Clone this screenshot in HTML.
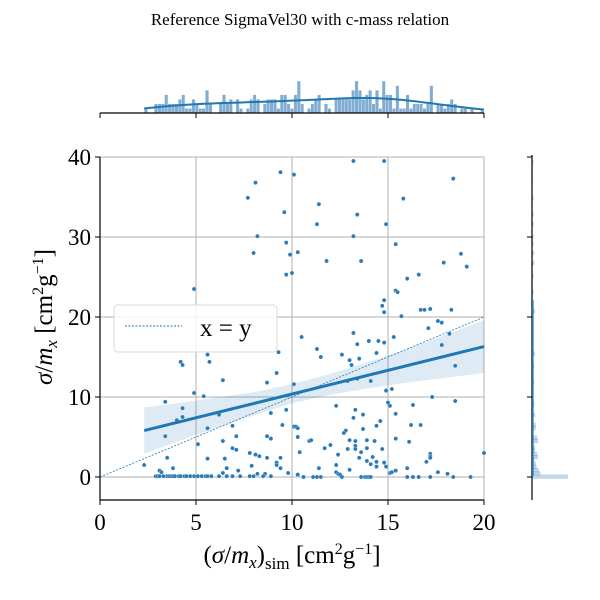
<!DOCTYPE html>
<html><head><meta charset="utf-8">
<style>
html,body{margin:0;padding:0;background:#fff;}
svg{display:block;font-family:"Liberation Serif","DejaVu Serif",serif;}
</style></head>
<body>
<svg id="chart" width="600" height="600" viewBox="0 0 600 600">
  <text x="300" y="25" text-anchor="middle" font-size="17">Reference SigmaVel30 with c-mass relation</text>
  <g id="grid"></g>
  <g id="band"></g>
  <g id="identity"></g>
  <g id="points"></g>
  <g id="fit"></g>
  <g id="axes"></g>
  <g id="tophist"></g>
  <g id="righthist"></g>
  <g>
    <rect x="114" y="305" width="163" height="47" rx="4" fill="#fff" fill-opacity="0.85" stroke="#d8d8d8"/>
    <line x1="125" y1="326" x2="182" y2="326" stroke="#1f77b4" stroke-width="0.9" stroke-dasharray="2,1.5"/>
    <text x="200" y="336" font-size="25">x = y</text>
  </g>
  <text x="292" y="563" text-anchor="middle" font-size="25">(<tspan font-style="italic">σ</tspan>/<tspan font-style="italic">m</tspan><tspan font-style="italic" font-size="17" dy="5">x</tspan><tspan dy="-5">)</tspan><tspan font-size="17" dy="6">sim</tspan><tspan dy="-6"> [cm</tspan><tspan font-size="16" dy="-9">2</tspan><tspan dy="9">g</tspan><tspan font-size="16" dy="-9">−1</tspan><tspan dy="9">]</tspan></text>
  <text transform="translate(52,317) rotate(-90)" text-anchor="middle" font-size="25"><tspan font-style="italic">σ</tspan>/<tspan font-style="italic">m</tspan><tspan font-style="italic" font-size="17" dy="5">x</tspan><tspan dy="-5"> [cm</tspan><tspan font-size="16" dy="-9">2</tspan><tspan dy="9">g</tspan><tspan font-size="16" dy="-9">−1</tspan><tspan dy="9">]</tspan></text>
</svg>
<script>
const xData = [9.4,10.1,8.1,7.7,9.6,8.2,9.7,8.0,9.9,10.3,9.7,10.0,4.9,13.2,14.8,18.4,11.4,15.8,13.4,11.3,14.9,13.2,15.4,11.8,13.6,18.8,17.9,19.1,16.6,16.0,15.4,15.5,14.8,14.7,14.8,16.7,16.9,17.2,18.3,15.7,17.6,17.8,17.1,
5.6,4.2,4.3,5.7,9.3,9.2,6.4,8.7,4.9,5.4,3.4,4.3,4.0,4.3,6.2,8.9,9.7,9.5,5.6,6.9,10.1,3.4,8.7,8.9,7.1,6.4,10.3,5.1,6.9,7.1,3.5,5.6,6.5,7.8,8.1,8.3,8.7,9.4,2.3,7.9,9.2,9.2,9.4,3.8,6.6,7.2,9.8,3.1,3.2,6.4,8.2,8.6,10.3,
2.9,3.0,3.1,3.3,3.5,3.6,3.7,3.8,3.9,4.1,4.2,4.4,4.5,4.7,4.9,5.1,5.3,5.5,5.6,5.8,6.2,6.6,6.9,7.3,7.8,8.0,8.5,8.9,
10.5,13.2,11.3,11.5,13.4,14.0,14.5,14.8,15.3,12.6,13.0,13.1,13.5,14.4,18.2,17.8,18.5,10.1,12.9,13.4,14.1,14.9,15.2,17.3,18.5,15.0,15.1,12.3,16.3,13.3,15.4,13.2,13.7,14.6,14.4,13.7,16.2,16.7,10.2,10.3,10.3,12.8,12.7,15.4,16.1,10.9,11.0,13.0,13.3,13.9,14.3,11.7,12.0,12.9,13.3,13.3,13.9,14.7,10.4,13.6,12.4,13.5,14.2,13.9,14.1,14.4,14.4,14.8,14.9,17.0,17.2,17.2,17.2,20.0,12.3,11.4,13.0,16.0,15.1,15.2,15.4,12.3,12.4,12.5,17.6,18.1,10.3,
10.6,11.1,11.3,11.5,12.6,13.6,13.8,13.9,14.0,14.1,16.0,16.3,16.6,17.2,18.4,19.3];
const yData = [38.1,37.8,36.8,34.9,33.1,30.1,29.3,28.0,27.8,28.1,25.3,25.5,23.5,39.5,39.5,37.3,34.1,34.8,32.8,31.6,31.6,30.1,29.1,27.0,27.0,27.9,26.8,26.3,25.3,24.8,23.3,23.1,22.1,21.4,20.6,20.9,20.9,21.0,20.9,20.1,19.5,19.3,18.6,
15.3,14.4,14.0,14.4,15.6,13.0,12.1,11.8,10.5,10.1,9.4,8.6,7.1,7.5,7.8,8.0,8.4,6.5,6.1,6.4,6.3,5.1,5.1,4.8,5.1,4.5,5.0,4.1,3.6,3.4,2.4,2.3,2.3,3.0,2.8,2.6,2.4,2.4,1.5,1.4,1.8,1.5,1.1,1.1,1.1,0.8,0.5,0.8,0.6,0.5,0.4,0.4,0.3,
0.1,0.1,0.1,0.1,0.1,0.1,0.1,0.1,0.1,0.1,0.1,0.1,0.1,0.1,0.1,0.1,0.1,0.1,0.1,0.1,0.1,0.1,0.1,0.1,0.1,0.1,0.1,0.1,
17.5,18.0,16.0,15.0,16.6,17.0,17.0,16.8,17.5,15.3,14.6,14.0,14.8,15.5,17.9,16.5,13.9,11.6,12.0,12.3,12.0,10.8,11.0,10.0,9.5,9.3,8.9,8.9,9.0,8.4,7.9,7.4,7.8,7.0,6.4,6.0,6.5,6.5,6.3,6.1,5.0,5.8,5.5,4.8,4.4,4.5,4.6,4.6,4.5,4.6,4.5,3.6,4.0,3.5,3.9,3.5,3.6,3.5,3.1,3.1,2.8,2.4,2.5,2.0,1.6,1.9,1.3,1.8,1.3,1.9,2.9,2.6,2.4,3.0,1.5,1.1,0.9,1.1,0.5,0.6,0.8,0.6,0.4,0.3,0.6,0.4,0.3,
0.0,0.0,0.0,0.0,0.0,0.0,0.0,0.0,0.0,0.0,0.0,0.0,0.0,0.0,0.0,0.0];
const fitX = [2.3, 20];
const fitY = [5.8, 16.3];
const bandX = [2.3,4,6,8,10,12,14,16,18,20];
const bandLo = [2.9,4.4,6.1,7.7,9.2,10.3,11.1,11.8,12.4,13.0];
const bandHi = [8.7,9.2,9.9,10.6,11.6,12.9,14.4,16.0,17.8,19.6];
const xTicks = [0,5,10,15,20];
const yTicks = [0,10,20,30,40];

const NS = 'http://www.w3.org/2000/svg';
const L = 100, R = 484, T = 157, B = 500;
const sx = v => L + v * (R - L) / 20;
const sy = v => 477 - v * 8;
function mk(tag, attrs, parent) {
  const e = document.createElementNS(NS, tag);
  for (const k in attrs) e.setAttribute(k, attrs[k]);
  parent.appendChild(e);
  return e;
}
const g = id => document.getElementById(id);

xTicks.forEach(t => {
  const ln = mk('line', {x1: sx(t), x2: sx(t), y1: T, y2: B, stroke: '#b0b0b0', 'stroke-width': 1}, g('grid'));
  
  
});
yTicks.forEach(t => {
  const ln = mk('line', {x1: L, x2: R, y1: sy(t), y2: sy(t), stroke: '#b0b0b0', 'stroke-width': 1}, g('grid'));
  
  
});

let pts = bandX.map((x, i) => sx(x) + ',' + sy(bandHi[i]));
pts = pts.concat(bandX.map((x, i) => sx(x) + ',' + sy(bandLo[i])).reverse());
const poly = mk('polygon', {points: pts.join(' '), fill: '#1f77b4', 'fill-opacity': 0.15}, g('band'));



const idl = mk('line', {x1: sx(0), y1: sy(0), x2: sx(20), y2: sy(20), stroke: '#1f77b4', 'stroke-width': 0.8, 'stroke-dasharray': '2,1.5'}, g('identity'));



xData.forEach((x, i) => {
  const c = mk('circle', {cx: sx(x), cy: sy(yData[i]), r: 2.1, fill: '#2a7ab8', stroke: '#fff', 'stroke-width': 0.3}, g('points'));
  
  
});

const fl = mk('line', {x1: sx(fitX[0]), y1: sy(fitY[0]), x2: sx(fitX[1]), y2: sy(fitY[1]), stroke: '#1f77b4', 'stroke-width': 3}, g('fit'));



const ax = g('axes');
let e = mk('line', {x1: L, x2: L, y1: T, y2: B, stroke: '#000', 'stroke-width': 1.2}, ax);


e = mk('line', {x1: L, x2: R, y1: B, y2: B, stroke: '#000', 'stroke-width': 1.2}, ax);


xTicks.forEach(t => {
  const tk = mk('line', {x1: sx(t), x2: sx(t), y1: B, y2: B + 5, stroke: '#000', 'stroke-width': 1}, ax);
  
  
  const tl = mk('text', {x: sx(t), y: 530, 'text-anchor': 'middle', 'font-size': 23}, ax);
  tl.textContent = t;
  
  
});
yTicks.forEach(t => {
  const tk = mk('line', {x1: L - 5, x2: L, y1: sy(t), y2: sy(t), stroke: '#000', 'stroke-width': 1}, ax);
  
  
  const tl = mk('text', {x: 91, y: sy(t) + 8, 'text-anchor': 'end', 'font-size': 23}, ax);
  tl.textContent = t;
  
  
});

const th = g('tophist');
const TB = 113;
const nb = 100, xmin = Math.min(...xData), xmax = Math.max(...xData);
const cnt = new Array(nb).fill(0);
xData.forEach(v => { let k = Math.floor((v - xmin) / (xmax - xmin) * nb); if (k >= nb) k = nb - 1; cnt[k]++; });
const mx = Math.max(...cnt);
const bw = (xmax - xmin) / nb;
cnt.forEach((c, k) => {
  if (!c) return;
  const h = c / mx * 32;
  const r = mk('rect', {x: sx(xmin + k * bw), y: TB - h, width: sx(bw) - sx(0), height: h, fill: '#4d8abf', 'fill-opacity': 0.7, stroke: '#fff', 'stroke-width': 0.3}, th);
  
  
});
const bwK = 2.2;
let kd = [], kmax = 0;
for (let i = 0; i <= 80; i++) {
  const x = xmin + (20 - xmin) * i / 80;
  let s = 0; xData.forEach(v => { s += Math.exp(-0.5 * ((x - v) / bwK) ** 2); });
  kd.push([x, s]); if (s > kmax) kmax = s;
}
const kp = mk('polyline', {points: kd.map(p => sx(p[0]) + ',' + (TB - p[1] / kmax * 15)).join(' '), fill: 'none', stroke: '#1f77b4', 'stroke-width': 2}, th);


e = mk('line', {x1: L, x2: R, y1: TB, y2: TB, stroke: '#000', 'stroke-width': 1.2}, th);


xTicks.forEach(t => {
  const tk = mk('line', {x1: sx(t), x2: sx(t), y1: TB, y2: TB + 5, stroke: '#000', 'stroke-width': 1}, th);
  
  
});

const rh = g('righthist');
const RL = 532;
const nby = 100, ymin = -0.5, ymax = 40;
const cy = new Array(nby).fill(0);
yData.forEach(v => { let k = Math.floor((v - ymin) / (ymax - ymin) * nby); if (k >= nby) k = nby - 1; if (k < 0) k = 0; cy[k]++; });
const my = Math.max(...cy);
const bh = (ymax - ymin) / nby;
cy.forEach((c, k) => {
  if (!c) return;
  const w = c / my * 36;
  const y0 = sy(ymin + (k + 1) * bh);
  const r = mk('rect', {x: RL, y: y0, width: w, height: sy(0) - sy(bh) + 1, fill: '#4d8abf', 'fill-opacity': 0.35}, rh);
  
  
});
e = mk('line', {x1: RL, x2: RL, y1: 155, y2: B, stroke: '#000', 'stroke-width': 1.2}, rh);


e = mk('line', {x1: RL + 0.8, x2: RL + 0.8, y1: 300, y2: 476, stroke: '#1f77b4', 'stroke-width': 1.5}, rh);


yTicks.forEach(t => {
  const tk = mk('line', {x1: RL - 5, x2: RL, y1: sy(t), y2: sy(t), stroke: '#000', 'stroke-width': 1}, rh);
  
  
});
</script>
</body></html>
